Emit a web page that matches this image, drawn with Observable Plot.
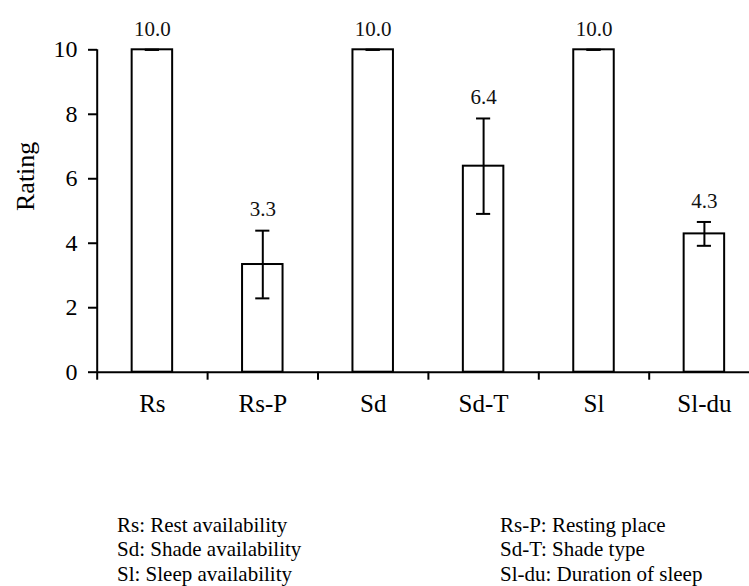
<!DOCTYPE html>
<html>
<head>
<meta charset="utf-8">
<script src="https://cdn.jsdelivr.net/npm/d3@7"></script>
<script src="https://cdn.jsdelivr.net/npm/@observablehq/plot@0.6"></script>
<style>
  html, body { margin: 0; padding: 0; background: white; overflow: hidden; }
  #chart svg { display: block; }
  #chart svg text { font-family: 'Liberation Serif', 'Times New Roman', Times, Tinos, 'DejaVu Serif', serif; }
  .legend { position: absolute; font-family: 'Liberation Serif', 'Times New Roman', Times, Tinos, 'DejaVu Serif', serif; font-size: 21px; line-height: 24.5px; color: #000; white-space: nowrap; }
</style>
</head>
<body>
<div id="chart"></div>
<div class="legend" id="legLeft" style="left:117px; top:512.6px;"></div>
<div class="legend" id="legRight" style="left:500px; top:512.6px;"></div>
<script>
const categories = ["Rs", "Rs-P", "Sd", "Sd-T", "Sl", "Sl-du"];
const means = [10, 3.34, 10, 6.39, 10, 4.29];
const errors = [0, 1.05, 0, 1.48, 0, 0.37];
const yTicks = [0, 2, 4, 6, 8, 10];
const yLabel = "Rating";
const legendLeft = ["Rs: Rest availability", "Sd: Shade availability", "Sl: Sleep availability"];
const legendRight = ["Rs-P: Resting place", "Sd-T: Shade type", "Sl-du: Duration of sleep"];

const data = categories.map((c, i) => ({cat: c, pos: i + 0.5, mean: means[i], err: errors[i]}));
const boundaries = d3.range(categories.length + 1);
const halfBar = 0.1834;
const halfCap = 0.064;
const fmt = d3.format(".1f");
const serif = "'Liberation Serif', 'Times New Roman', Times, Tinos, 'DejaVu Serif', serif";

const H = 505;
const chart = Plot.plot({
  width: 749,
  height: H,
  marginLeft: 97,
  marginRight: 0,
  marginTop: 49.3,
  marginBottom: H - 371.7,
  style: {fontFamily: serif, color: "black", background: "white"},
  x: {type: "linear", domain: [0, categories.length], range: [96.7, 96.7 + 110.4 * categories.length]},
  y: {domain: [0, 10]},
  marks: [
    Plot.rectY(data, {x1: d => d.pos - halfBar, x2: d => d.pos + halfBar, y1: 0, y2: "mean", fill: "white", stroke: "black", strokeWidth: 2}),
    Plot.ruleX(data, {x: "pos", y1: d => d.mean - d.err, y2: d => d.mean + d.err, stroke: "black", strokeWidth: 2}),
    Plot.ruleY(data, {y: d => d.mean + d.err, x1: d => d.pos - halfCap, x2: d => d.pos + halfCap, stroke: "black", strokeWidth: 2}),
    Plot.ruleY(data, {y: d => d.mean - d.err, x1: d => d.pos - halfCap, x2: d => d.pos + halfCap, stroke: "black", strokeWidth: 2}),
    Plot.text(data, {x: "pos", y: d => d.mean + d.err, text: d => fmt(d.mean), dy: -21, fontSize: 21, fontFamily: serif, fill: "#111"}),
    Plot.axisY({ticks: yTicks, tickSize: 9, tickPadding: 11, fontSize: 24, fontFamily: serif, strokeWidth: 2, label: null, line: false}),
    Plot.ruleX([0], {y1: 0, y2: 10, stroke: "black", strokeWidth: 2}),
    Plot.ruleY([0], {stroke: "black", strokeWidth: 2}),
    Plot.axisX({ticks: boundaries, tickSize: 8, tickFormat: () => "", strokeWidth: 2, label: null}),
    Plot.text(data, {x: "pos", frameAnchor: "bottom", text: "cat", dy: 39.6, fontSize: 25, fontFamily: serif}),
    Plot.text([yLabel], {frameAnchor: "left", text: d => d, rotate: -90, dx: -72.3, fontSize: 26, fontFamily: serif})
  ]
});
document.getElementById("chart").appendChild(chart);
document.getElementById("legLeft").innerHTML = legendLeft.map(t => `<div>${t}</div>`).join("");
document.getElementById("legRight").innerHTML = legendRight.map(t => `<div>${t}</div>`).join("");
</script>
</body>
</html>
